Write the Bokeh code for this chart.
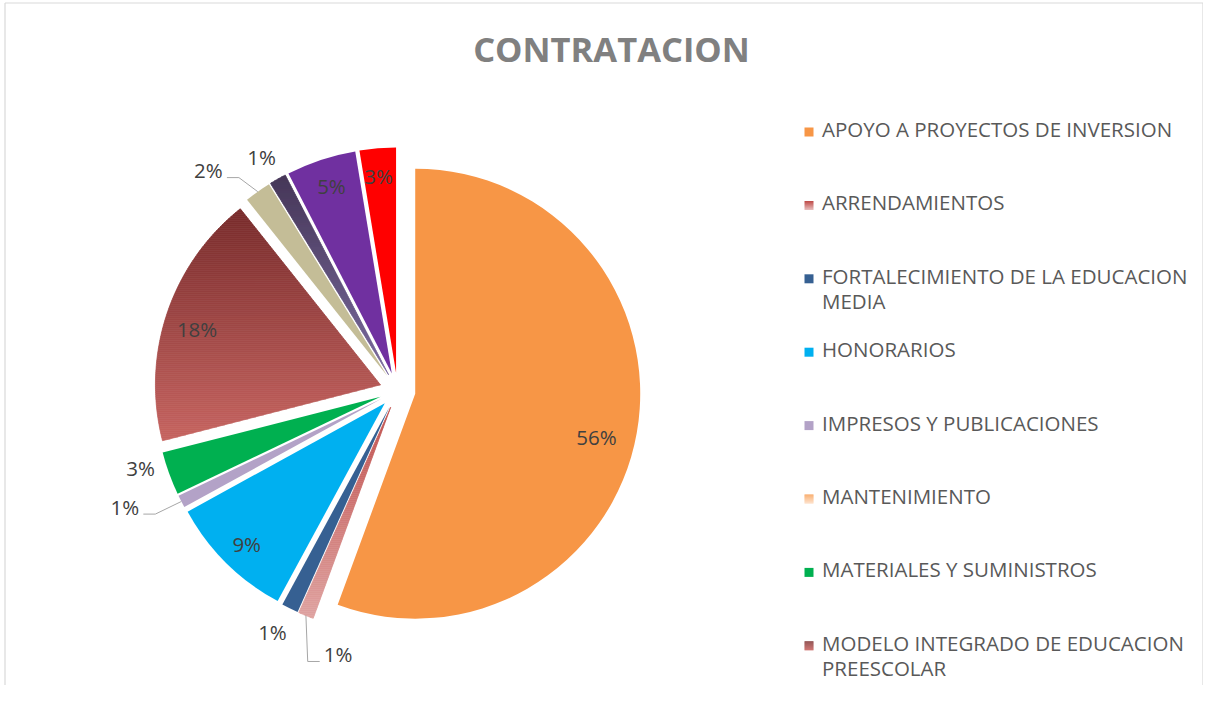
import math
import textwrap
import numpy as np
from bokeh.plotting import figure
from bokeh.models import Range1d
from bokeh.core.properties import value
from bokeh.embed import file_html
from bokeh.resources import INLINE

# ---------------- data ----------------
title = "CONTRATACION"
categories = [
    "APOYO A PROYECTOS DE INVERSION",
    "ARRENDAMIENTOS",
    "FORTALECIMIENTO DE LA EDUCACION MEDIA",
    "HONORARIOS",
    "IMPRESOS Y PUBLICACIONES",
    "MANTENIMIENTO",
    "MATERIALES Y SUMINISTROS",
    "MODELO INTEGRADO DE EDUCACION PREESCOLAR",
    "CATEGORIA 9",
    "CATEGORIA 10",
    "CATEGORIA 11",
    "CATEGORIA 12",
]
values = [55.6, 1.1, 1.2, 9.1, 0.9, 0.0, 3.1, 18.3, 1.9, 1.2, 5.0, 2.6]

# ---------------- style ----------------
colors = ["#F79646", "#D99694", "#366092", "#00B0F0", "#B3A2C7", "#FAC090",
          "#00B050", "#A24C4A", "#C4BD97", "#5C4A7A", "#7030A0", "#FF0000"]
# vertical gradients (top colour, bottom colour) for some slices
gradients = {1: ("#C0504D", "#DFA3A1"), 7: ("#782B2B", "#C66460"), 9: ("#463758", "#7A6A9E")}
legend_gradients = {1: ("#C0504D", "#E6B9B8"), 5: ("#F79646", "#FCD5B5"), 7: ("#7A2C2C", "#C0504D")}
# label placement: (radius factor, angle nudge in degrees)
label_pos = [(0.83, 3.8), (1.128, -10.2), (1.135, 1.0), (0.88, -0.6), (1.24, 4.1), None,
             (1.115, 3.1), (0.85, -2.0), (1.206, -6.1), (1.115, -0.9), (0.87, 0.4), (0.87, -0.4)]
leaders = {1, 4, 8}

CX, CY = 397.0, 390.0   # pie centre (pixel space, y down)
R = 225.0
EXPLODE = 18.0
W, H = 1203, 685
TXT_DY = -1.5           # optical correction for "middle" baseline

p = figure(width=W, height=H, x_range=Range1d(0, W), y_range=Range1d(-H, 0),
           output_backend="svg", toolbar_location=None, min_border=0,
           x_axis_location=None, y_axis_location=None)
p.grid.visible = False
p.outline_line_color = None
p.background_fill_color = "white"
p.border_fill_color = "white"


def hex2rgb(h):
    return tuple(int(h[i:i + 2], 16) for i in (1, 3, 5))


def lerp(c1, c2, t):
    a, b = hex2rgb(c1), hex2rgb(c2)
    return "#%02x%02x%02x" % tuple(int(round(a[i] + (b[i] - a[i]) * t)) for i in range(3))


def clip_half(pts, keep, yc):
    out = []
    n = len(pts)
    for i in range(n):
        cur, prev = pts[i], pts[i - 1]
        cin, pin = keep(cur), keep(prev)
        if cin:
            if not pin:
                t = (yc - prev[1]) / (cur[1] - prev[1])
                out.append((prev[0] + t * (cur[0] - prev[0]), yc))
            out.append(cur)
        elif pin:
            t = (yc - prev[1]) / (cur[1] - prev[1])
            out.append((prev[0] + t * (cur[0] - prev[0]), yc))
    return out


def clip_band(poly, y0, y1):
    pts = clip_half(poly, lambda q: q[1] >= y0, y0)
    if len(pts) < 3:
        return []
    pts = clip_half(pts, lambda q: q[1] <= y1, y1)
    return pts if len(pts) >= 3 else []


total = float(sum(values))
cum = 0.0
wx, wy, ws, we, wc = [], [], [], [], []
gxs, gys, gcol = [], [], []
lab_x, lab_y, lab_t = [], [], []
lead_xs, lead_ys = [], []

for i, v in enumerate(values):
    t1 = cum / total * 360.0
    cum += v
    t2 = cum / total * 360.0
    if v <= 0:
        continue
    tm = (t1 + t2) / 2.0
    ax = CX + EXPLODE * math.sin(math.radians(tm))
    ay = CY - EXPLODE * math.cos(math.radians(tm))
    if i in gradients:
        th = np.radians(np.linspace(t1, t2, 120))
        poly = [(ax, ay)] + list(zip(ax + R * np.sin(th), ay - R * np.cos(th)))
        ys_ = [q[1] for q in poly]
        ymin, ymax = min(ys_), max(ys_)
        step = 2.0
        yb = ymin
        while yb < ymax:
            band = clip_band(poly, yb, yb + step)
            if band:
                tt = (yb + step / 2 - ymin) / (ymax - ymin)
                c = lerp(gradients[i][0], gradients[i][1], min(max(tt, 0), 1))
                gxs.append([q[0] for q in band])
                gys.append([-q[1] for q in band])
                gcol.append(c)
            yb += step
    else:
        wx.append(ax)
        wy.append(-ay)
        ws.append(math.radians(90 - t1))
        we.append(math.radians(90 - t2))
        wc.append(colors[i])
    # label
    lp = label_pos[i]
    if lp is not None:
        rf, dth = lp
        la = math.radians(tm + dth)
        lx = ax + rf * R * math.sin(la)
        ly = ay - rf * R * math.cos(la)
        lab_x.append(lx)
        lab_y.append(-(ly + TXT_DY))
        lab_t.append("%d%%" % int(v / total * 100 + 0.5))
        if i in leaders:
            sx = ax + R * math.sin(math.radians(tm))
            sy = ay - R * math.cos(math.radians(tm))
            half = 14.5
            ey = ly + 6
            if lx > sx:
                ex = lx - half - 4
                bx = ex - 12
            else:
                ex = lx + half + 4
                bx = ex + 12
            lead_xs.append([sx, bx, ex])
            lead_ys.append([-sy, -ey, -ey])

p.wedge(x=wx, y=wy, radius=R, start_angle=ws, end_angle=we, direction="clock",
        fill_color=wc, line_color=None)
if gxs:
    p.patches(xs=gxs, ys=gys, fill_color=gcol, line_color=gcol, line_width=0.7)

p.multi_line(xs=lead_xs, ys=lead_ys, line_color="#A6A6A6", line_width=1)
p.text(x=lab_x, y=lab_y, text=lab_t, text_align="center", text_baseline="middle",
       text_font=value("Open Sans"), text_font_size="20.5px", text_color="#404040")

# title
p.text(x=[611], y=[-(49 + TXT_DY)], text=[title], text_align="center", text_baseline="middle",
       text_font=value("Open Sans"), text_font_style="bold", text_font_size="34.5px",
       text_color="#808080")

# legend (only the entries that fit in the visible area)
LX_SW, LX_TX = 808.5, 821.5
LY0, LSTEP, LLINE = 130.0, 73.4, 25.5
sq_x, sq_y, sq_c = [], [], []
tx_x, tx_y, tx_t = [], [], []
for i, name in enumerate(categories):
    y0 = LY0 + i * LSTEP
    if y0 > H - 10:
        break
    lines = textwrap.wrap(name, 31)
    for j, ln in enumerate(lines):
        tx_x.append(LX_TX)
        tx_y.append(-(y0 + j * LLINE + TXT_DY))
        tx_t.append(ln)
    sy = y0 + 1.5
    if i in legend_gradients:
        for k in range(9):
            sq_x.append(LX_SW)
            sq_y.append(-(sy - 4 + k))
            sq_c.append(lerp(legend_gradients[i][0], legend_gradients[i][1], k / 8))
    else:
        p.rect(x=[LX_SW], y=[-sy], width=9, height=9, fill_color=colors[i], line_color=None)
p.rect(x=sq_x, y=sq_y, width=9, height=1, fill_color=sq_c, line_color=None)
p.text(x=tx_x, y=tx_y, text=tx_t, text_align="left", text_baseline="middle",
       text_font=value("Open Sans"), text_font_size="20.5px", text_color="#595959")

# chart border (top, left, right)
p.multi_line(xs=[[4.5, W - 0.5], [4.5, 4.5], [W - 0.5, W - 0.5]],
             ys=[[-2.5, -2.5], [-2.5, -H], [-2.5, -H]],
             line_color="#D9D9D9", line_width=1.2)

open("out.html", "w").write(file_html(p, INLINE))
